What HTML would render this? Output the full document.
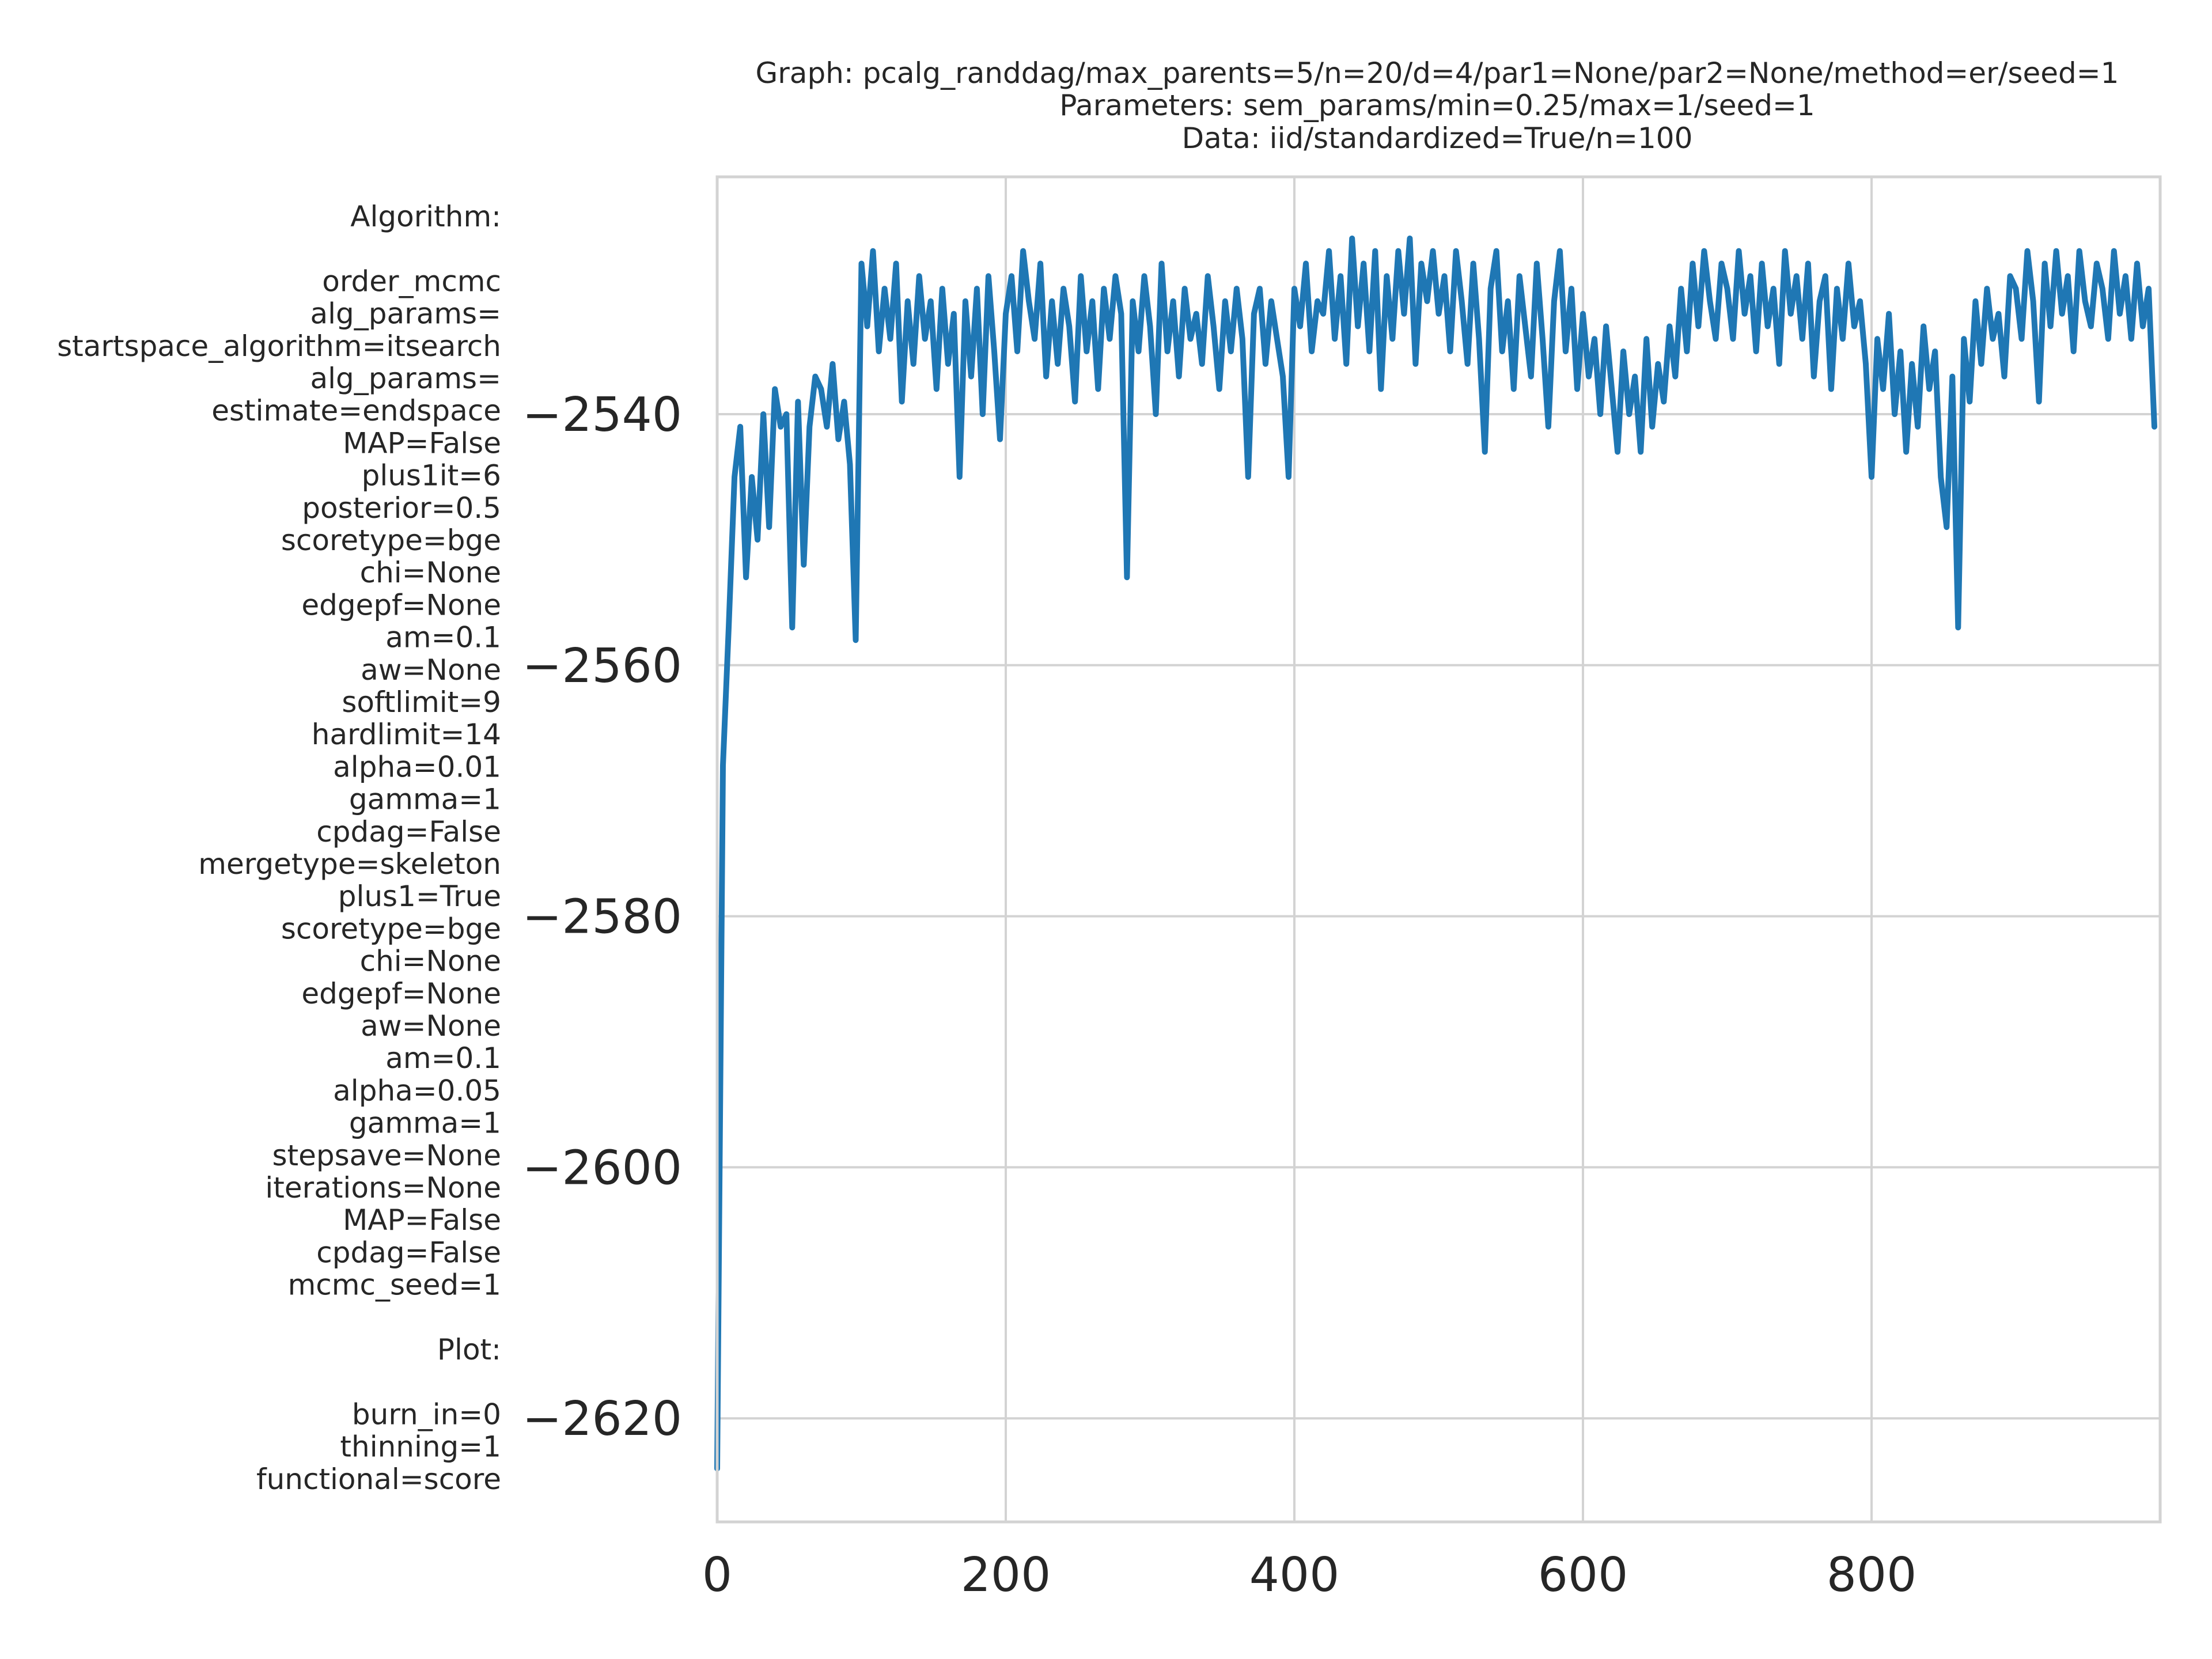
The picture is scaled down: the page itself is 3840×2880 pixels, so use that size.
<!DOCTYPE html>
<html><head><meta charset="utf-8"><style>
html,body{margin:0;padding:0;background:#fff;}
svg{display:block;font-family:"DejaVu Sans","Liberation Sans",sans-serif;}
</style></head><body>
<svg id="chart" width="3840" height="2880" viewBox="0 0 3840 2880" xmlns="http://www.w3.org/2000/svg">
<rect x="0" y="0" width="3840" height="2880" fill="#fff"/>
<g id="titles" fill="#262626" font-size="50" text-anchor="middle">
<text x="2495" y="144">Graph: pcalg_randdag/max_parents=5/n=20/d=4/par1=None/par2=None/method=er/seed=1</text>
<text x="2495" y="200">Parameters: sem_params/min=0.25/max=1/seed=1</text>
<text x="2495" y="257">Data: iid/standardized=True/n=100</text>
</g>
<g id="sidetext" fill="#262626" font-size="50" text-anchor="end"></g>
<g id="grid"></g>
<g id="series"></g>
<g id="spines"></g>
<g id="ticks" fill="#262626" font-size="82"></g>
</svg>
<script>
const xTicks = [0, 200, 400, 600, 800];
const yTicks = [-2540, -2560, -2580, -2600, -2620];
const yTickLabels = ["\u22122540", "\u22122560", "\u22122580", "\u22122600", "\u22122620"];
const iterStep = 4;
const scores = [
-2624,-2568,-2557,-2545,-2541,-2553,-2545,-2550,-2540,-2549,-2538,-2541,-2540,-2557,-2539,-2552,-2541,-2537,-2538,-2541,-2536,-2542,-2539,-2544,-2558,
-2528,-2533,-2527,-2535,-2530,-2534,-2528,-2539,-2531,-2536,-2529,-2534,-2531,-2538,-2530,-2536,-2532,-2545,-2531,-2537,-2530,-2540,-2529,-2535,-2542,
-2532,-2529,-2535,-2527,-2531,-2534,-2528,-2537,-2531,-2536,-2530,-2533,-2539,-2529,-2535,-2531,-2538,-2530,-2534,-2529,-2532,-2553,-2531,-2535,-2529,
-2533,-2540,-2528,-2535,-2531,-2537,-2530,-2534,-2532,-2536,-2529,-2533,-2538,-2531,-2535,-2530,-2534,-2545,-2532,-2530,-2536,-2531,-2534,-2537,-2545,
-2530,-2533,-2528,-2535,-2531,-2532,-2527,-2534,-2529,-2536,-2526,-2533,-2528,-2535,-2527,-2538,-2529,-2534,-2527,-2532,-2526,-2536,-2528,-2531,-2527,
-2532,-2529,-2535,-2527,-2531,-2536,-2528,-2534,-2543,-2530,-2527,-2535,-2531,-2538,-2529,-2533,-2537,-2528,-2534,-2541,-2531,-2527,-2535,-2530,-2538,
-2532,-2537,-2534,-2540,-2533,-2538,-2543,-2535,-2540,-2537,-2543,-2534,-2541,-2536,-2539,-2533,-2537,-2530,-2535,-2528,-2533,-2527,-2531,-2534,-2528,
-2530,-2534,-2527,-2532,-2529,-2535,-2528,-2533,-2530,-2536,-2527,-2532,-2529,-2534,-2528,-2537,-2531,-2529,-2538,-2530,-2534,-2528,-2533,-2531,-2536,
-2545,-2534,-2538,-2532,-2540,-2535,-2543,-2536,-2541,-2533,-2538,-2535,-2545,-2549,-2537,-2557,-2534,-2539,-2531,-2536,-2530,-2534,-2532,-2537,-2529,
-2530,-2534,-2527,-2531,-2539,-2528,-2533,-2527,-2532,-2529,-2535,-2527,-2531,-2533,-2528,-2530,-2534,-2527,-2532,-2529,-2534,-2528,-2533,-2530,-2541
];
const sideLines = ["Algorithm:","","order_mcmc","alg_params=","startspace_algorithm=itsearch","alg_params=","estimate=endspace","MAP=False","plus1it=6","posterior=0.5","scoretype=bge","chi=None","edgepf=None","am=0.1","aw=None","softlimit=9","hardlimit=14","alpha=0.01","gamma=1","cpdag=False","mergetype=skeleton","plus1=True","scoretype=bge","chi=None","edgepf=None","aw=None","am=0.1","alpha=0.05","gamma=1","stepsave=None","iterations=None","MAP=False","cpdag=False","mcmc_seed=1","","Plot:","","burn_in=0","thinning=1","functional=score"];

const NS = "http://www.w3.org/2000/svg";
const L = 1245, R = 3750, T = 307, B = 2642;
const xMin = 0, xMax = 1000;
const yAt = (v) => 719 + (-2540 - v) * 21.79;
const xAt = (v) => L + (v - xMin) / (xMax - xMin) * (R - L);
function mk(tag, attrs, parent){ const e=document.createElementNS(NS,tag); for(const k in attrs) e.setAttribute(k,attrs[k]); parent.appendChild(e); return e; }

const grid = document.getElementById('grid');
const ticks = document.getElementById('ticks');
xTicks.forEach((t)=>{
  const gl = mk('line',{x1:xAt(t),x2:xAt(t),y1:T,y2:B,stroke:'#d3d3d3','stroke-width':4},grid);
  
  
  const tx = mk('text',{x:xAt(t),y:2762,'text-anchor':'middle'},ticks);
  tx.textContent = String(t);
  
  
});
yTicks.forEach((t,i)=>{
  const gl = mk('line',{x1:L,x2:R,y1:yAt(t),y2:yAt(t),stroke:'#d3d3d3','stroke-width':4},grid);
  
  
  const tx = mk('text',{x:1184,y:yAt(t)+29,'text-anchor':'end'},ticks);
  tx.textContent = yTickLabels[i];
  
  
});
const pts = scores.map((v,i)=>xAt(i*iterStep).toFixed(1)+','+yAt(v).toFixed(1)).join(' ');
const line = mk('polyline',{points:pts,fill:'none',stroke:'#1f77b4','stroke-width':10,'stroke-linejoin':'round','stroke-linecap':'round'},document.getElementById('series'));


const fr = mk('rect',{x:L,y:T,width:R-L,height:B-T,fill:'none',stroke:'#d3d3d3','stroke-width':5},document.getElementById('spines'));


const side = document.getElementById('sidetext');
sideLines.forEach((s,i)=>{
  const tx = mk('text',{x:870,y:393+i*56.2},side);
  tx.textContent = s;
  
  
});
</script>
</body></html>
